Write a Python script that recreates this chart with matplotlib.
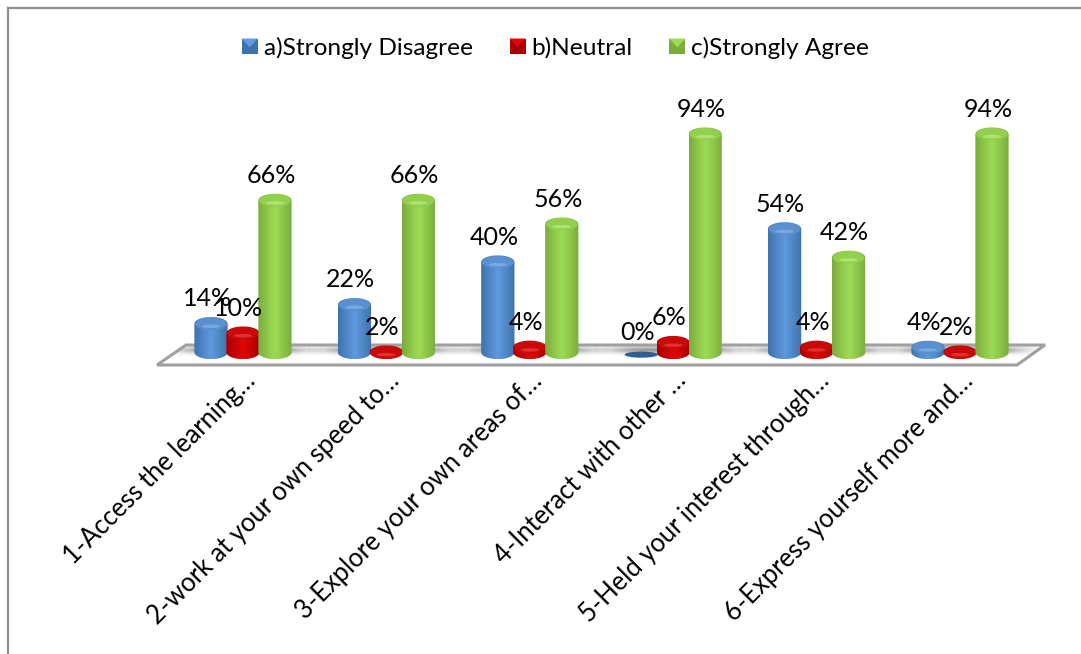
import numpy as np
from matplotlib import pyplot as plt
from matplotlib.colors import LinearSegmentedColormap
from matplotlib.legend_handler import HandlerBase
from matplotlib.lines import Line2D
from matplotlib.patches import Ellipse, Polygon, Rectangle
from matplotlib.transforms import Affine2D

questions = [
    '1-Access the learning…',
    '2-work at your own speed to…',
    '3-Explore your own areas of…',
    '4-Interact with other …',
    '5-Held your interest through…',
    '6-Express yourself more and…',
]
series_names = ['a)Strongly Disagree', 'b)Neutral', 'c)Strongly Agree']
strongly_disagree = [14, 22, 40, 0, 54, 4]
neutral = [10, 2, 4, 6, 4, 2]
strongly_agree = [66, 66, 56, 94, 42, 94]

# edge, middle, top-cap and highlight colours of each cylinder
blue = ('#3f72ad', '#5f9ade', '#5a90d0', '#86b4e8')
red = ('#a80000', '#e00606', '#c80a0a', '#f04040')
green = ('#7bad3e', '#9fdc55', '#92cf4c', '#bdea84')

W, H = 1081, 654
DPI = 100
PX_PER_PCT = 2.37
ZERO_PX = 357
FIRST_CAT_PX = 243
CAT_PX = 143.4
BOTTOM_PX = 372
OFFSET = 0.223
BAR_W = 0.232
CAP_H = 2.9
BASE = 2

plt.rcParams['font.family'] = ['Lato', 'DejaVu Sans']

fig = plt.figure(figsize=(W / DPI, H / DPI), dpi=DPI)
ax = fig.add_axes([0, (H - BOTTOM_PX) / H, 1, BOTTOM_PX / H])
ax.set_xlim(-FIRST_CAT_PX / CAT_PX, (W - FIRST_CAT_PX) / CAT_PX)
ax.set_ylim((ZERO_PX - BOTTOM_PX) / PX_PER_PCT, ZERO_PX / PX_PER_PCT)
ax.set_autoscale_on(False)
for spine in ax.spines.values():
    spine.set_visible(False)

# screen pixels, y measured from the top
px = Affine2D().scale(1, -1).translate(0, H)

# outer frame
for xs, ys in [((8, W), (8, 8)), ((8, 8), (8, H))]:
    fig.add_artist(Line2D(xs, ys, color='#8e8e8e', lw=1.6, transform=px))

# floor of the 3D plot
ax.add_patch(Polygon([(157, 365), (1017, 365), (1045, 345), (186, 345)], closed=True,
                     facecolor='white', edgecolor='#a0a0a0', lw=2.2, transform=px, zorder=1))
floor_clip = Polygon([(159, 364), (1016, 364), (1043, 346), (187, 346)], closed=True,
                     transform=px, facecolor='none', edgecolor='none')
ax.add_patch(floor_clip)

# soft shadow on the floor behind each group
shadow_cmap = LinearSegmentedColormap.from_list('shadow', [(0.45, 0.45, 0.45, 0), (0.45, 0.45, 0.45, 0.75)])
gx, gy = np.meshgrid(np.linspace(-1, 1, 120), np.linspace(-1, 1, 40))
blob = np.exp(-(np.abs(gx) ** 4) * 2.2 - (gy ** 2) * 3)
for i in range(len(questions)):
    im = ax.imshow(blob, cmap=shadow_cmap, vmin=0, vmax=1, aspect='auto', zorder=1.5,
                   extent=(i - 0.55, i + 0.55, 0.5, 5.5), interpolation='bilinear')
    im.set_clip_path(floor_clip)


def draw_cylinder(x, value, colours, z):
    half = BAR_W / 2
    if value == 0:
        # empty bar: only a thin dark disc stays on the floor
        ax.add_patch(Ellipse((x, 1), BAR_W, 2.6, facecolor='#2f5f92', edgecolor='none', zorder=z))
        return
    t = np.linspace(0, np.pi, 60)
    bottom = min(value, BASE)
    xs = np.concatenate([x - half * np.cos(t), x + half * np.cos(t)])
    ys = np.concatenate([value + CAP_H * np.sin(t), bottom - CAP_H * np.sin(t)])
    body = Polygon(np.column_stack([xs, ys]), closed=True, facecolor='none', edgecolor='none',
                   transform=ax.transData)
    ax.add_patch(body)
    cmap = LinearSegmentedColormap.from_list('cyl', [colours[0], colours[1], colours[0]])
    im = ax.imshow(np.linspace(0, 1, 64).reshape(1, -1), cmap=cmap, aspect='auto', zorder=z,
                   interpolation='bilinear', extent=(x - half, x + half, bottom - CAP_H, value + CAP_H))
    im.set_clip_path(body)
    ax.add_patch(Ellipse((x, value), BAR_W * 0.95, CAP_H * 1.8, facecolor=colours[2],
                         edgecolor='none', zorder=z + 0.1))
    ax.add_patch(Ellipse((x, value - CAP_H * 0.35), BAR_W * 0.55, CAP_H * 0.5, facecolor=colours[3],
                         edgecolor='none', alpha=0.7, zorder=z + 0.2))


all_values = [strongly_disagree, neutral, strongly_agree]
all_colours = [blue, red, green]
for s, (values, colours) in enumerate(zip(all_values, all_colours)):
    for i, value in enumerate(values):
        x = i + (s - 1) * OFFSET
        draw_cylinder(x, value, colours, 2 + s)
        ax.annotate(f'{value}%', (x, value), xytext=(-4, 25), textcoords='offset pixels',
                    ha='center', va='center', fontsize=18, color='black', zorder=10)

ax.set_xticks(range(len(questions)))
ax.set_xticklabels(questions, rotation=45, ha='right', rotation_mode='anchor', fontsize=18.4)
ax.tick_params(axis='x', length=0, pad=-3)
ax.set_yticks([])


class BevelHandler(HandlerBase):
    # small square swatch with a lighter wedge along its top edge
    def create_artists(self, legend, orig, xd, yd, width, height, fontsize, trans):
        side = 11.5
        x0, y0 = -xd + (width - side) / 2, -yd + (height - side) / 2
        base = Rectangle((x0, y0), side, side, facecolor=orig.get_edgecolor(), edgecolor='none', transform=trans)
        wedge = Polygon([(x0, y0 + side), (x0 + side, y0 + side), (x0 + side / 2, y0 + side * 0.45)],
                        closed=True, facecolor=orig.get_facecolor(), edgecolor='none', transform=trans)
        return [base, wedge]


handles = [Rectangle((0, 0), 1, 1, facecolor=c[1], edgecolor=c[0]) for c in all_colours]
ax.legend(handles, series_names, handler_map={Rectangle: BevelHandler()}, ncol=3, frameon=False,
          fontsize=17.6, loc='center', bbox_to_anchor=(555 / W, (BOTTOM_PX - 48) / BOTTOM_PX),
          handlelength=0.75, handletextpad=0.2, columnspacing=1.45, borderpad=0, borderaxespad=0)

plt.savefig('out.png', dpi=DPI)
